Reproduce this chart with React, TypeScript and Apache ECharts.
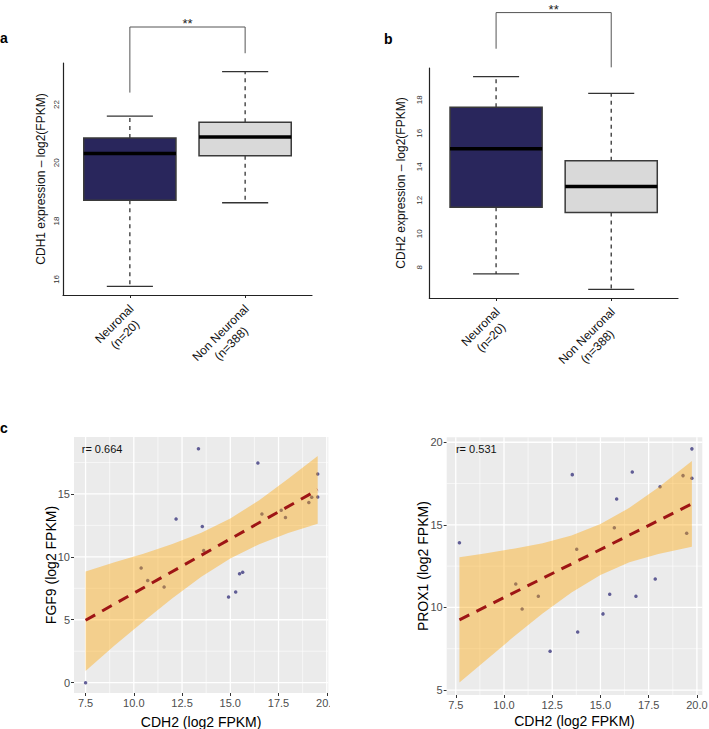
import React, { useEffect, useRef } from 'react';
import * as echarts from 'echarts';

const FONT = '"Liberation Sans", Arial, Helvetica, sans-serif';

// ---------- Panels a / b : box plots ----------
const boxCategories = ['Neuronal\n(n=20)', 'Non Neuronal\n(n=388)'];
const boxFill = ['#29265C', '#D9D9D9'];
// [lower whisker, Q1, median, Q3, upper whisker]
const cdh1Stats = [
  [15.76, 18.72, 20.32, 20.85, 21.6],
  [18.63, 20.24, 20.89, 21.39, 23.13],
];
const cdh2Stats = [
  [7.6, 11.58, 15.08, 17.55, 19.39],
  [6.67, 11.27, 12.82, 14.36, 18.38],
];
const cdh1Ticks = [16, 18, 20, 22];
const cdh2Ticks = [8, 10, 12, 14, 16, 18];
// significance bracket: [left leg bottom, top, right leg bottom]
const cdh1Bracket = [22.41, 24.66, 23.76];
const cdh2Bracket = [21.05, 23.21, 19.94];
const sigLabel = '**';

// ---------- Panel c : scatter + lm fit ----------
const fgf9X = [7.5, 10.38, 10.72, 11.57, 12.19, 13.35, 13.55, 13.62, 14.91, 15.28, 15.48, 15.64, 16.43, 16.64, 17.64, 17.86, 19.07, 19.22, 19.53, 19.53];
const fgf9Y = [0.0, 9.11, 8.11, 7.6, 13.0, 18.59, 12.41, 10.51, 6.81, 7.21, 8.66, 8.77, 17.45, 13.41, 13.7, 13.12, 14.31, 14.74, 16.58, 14.76];
const fgf9BandX = [7.5, 9, 10.5, 12, 13.5, 15, 16.5, 18, 19.53];
const fgf9BandLo = [0.92, 2.96, 4.87, 6.71, 8.41, 9.86, 11.0, 11.89, 12.62];
const fgf9BandHi = [8.84, 9.56, 10.25, 11.01, 11.91, 13.04, 14.5, 16.21, 18.01];
const fgf9FitX = [7.5, 19.53];
const fgf9FitY = [4.96, 15.32];
const fgf9R = 'r= 0.664';

const prox1X = [7.69, 10.61, 10.94, 11.78, 12.39, 13.54, 13.77, 13.82, 15.13, 15.48, 15.72, 15.84, 16.65, 16.84, 17.84, 18.09, 19.28, 19.47, 19.74, 19.74];
const prox1Y = [13.92, 11.42, 9.91, 10.68, 7.35, 18.04, 13.52, 8.52, 9.61, 10.8, 14.83, 16.57, 18.2, 10.68, 11.72, 17.31, 17.98, 14.49, 19.6, 17.82];
const prox1BandX = [7.69, 9, 10.5, 12, 13.5, 15, 16.5, 18, 19.74];
const prox1BandLo = [5.45, 6.75, 8.22, 9.63, 10.91, 11.97, 12.73, 13.24, 13.68];
const prox1BandHi = [13.04, 13.27, 13.56, 13.89, 14.35, 15.05, 16.03, 17.26, 18.87];
const prox1FitX = [7.69, 19.74];
const prox1FitY = [9.25, 16.27];
const prox1R = 'r= 0.531';

const cdh2XTicks = [7.5, 10, 12.5, 15, 17.5, 20];
const cdh2XMinor = [8.75, 11.25, 13.75, 16.25, 18.75];
const fgf9YTicks = [0, 5, 10, 15];
const fgf9YMinor = [2.5, 7.5, 12.5, 17.5];
const prox1YTicks = [5, 10, 15, 20];
const prox1YMinor = [7.5, 12.5, 17.5];

function textWidth(t: string, font: string): number {
  const ctx = document.createElement('canvas').getContext('2d');
  if (!ctx) return t.length * 6.5;
  ctx.font = font;
  return ctx.measureText(t).width;
}

function boxSeries(axisIndex: number, stats: number[][], yMin: number) {
  return {
    type: 'custom',
    xAxisIndex: axisIndex,
    yAxisIndex: axisIndex,
    z: 3,
    clip: false,
    data: stats.map((s, i) => [i + 1, ...s]),
    renderItem: (params: any, api: any) => {
      const x = api.value(0);
      const [cx, lowY] = api.coord([x, api.value(1)]);
      const q1Y = api.coord([x, api.value(2)])[1];
      const medY = api.coord([x, api.value(3)])[1];
      const q3Y = api.coord([x, api.value(4)])[1];
      const highY = api.coord([x, api.value(5)])[1];
      const half = api.size([0.8, 0])[0] / 2;
      const cap = api.size([0.4, 0])[0] / 2;
      const axisY = api.coord([x, yMin])[1];
      const label = boxCategories[params.dataIndex];
      const w = Math.max(...label.split('\n').map((l) => textWidth(l, '12px "Liberation Sans"')));
      const ax = cx + 7;
      const ay = axisY + 17;
      const k = Math.SQRT1_2 * (w / 2);
      const stroke = '#333';
      return {
        type: 'group',
        children: [
          { type: 'line', shape: { x1: cx, y1: q3Y, x2: cx, y2: highY }, style: { stroke, lineWidth: 1.3, lineDash: [4, 4] } },
          { type: 'line', shape: { x1: cx, y1: q1Y, x2: cx, y2: lowY }, style: { stroke, lineWidth: 1.3, lineDash: [4, 4] } },
          { type: 'line', shape: { x1: cx - cap, y1: highY, x2: cx + cap, y2: highY }, style: { stroke, lineWidth: 1.3 } },
          { type: 'line', shape: { x1: cx - cap, y1: lowY, x2: cx + cap, y2: lowY }, style: { stroke, lineWidth: 1.3 } },
          {
            type: 'rect',
            shape: { x: cx - half, y: q3Y, width: half * 2, height: q1Y - q3Y },
            style: { fill: boxFill[params.dataIndex], stroke: '#3a3a3a', lineWidth: 1.5 },
          },
          { type: 'line', shape: { x1: cx - half, y1: medY, x2: cx + half, y2: medY }, style: { stroke: '#000', lineWidth: 3.5 } },
          {
            type: 'text',
            x: ax - k,
            y: ay + k,
            rotation: Math.PI / 4,
            style: {
              text: label,
              fontSize: 12,
              fontFamily: FONT,
              fill: '#111',
              align: 'center',
              verticalAlign: 'middle',
              lineHeight: 15,
            },
          },
        ],
      };
    },
  };
}

function bracketSeries(axisIndex: number, b: number[]) {
  return {
    type: 'custom',
    xAxisIndex: axisIndex,
    yAxisIndex: axisIndex,
    clip: false,
    z: 4,
    data: [[1.5, b[1]]],
    renderItem: (_p: any, api: any) => {
      const [x1, yl] = api.coord([1, b[0]]);
      const yt = api.coord([1, b[1]])[1];
      const [x2, yr] = api.coord([2, b[2]]);
      const mx = api.coord([1.5, b[1]])[0];
      return {
        type: 'group',
        children: [
          {
            type: 'polyline',
            shape: { points: [[x1, yl], [x1, yt], [x2, yt], [x2, yr]] },
            style: { stroke: '#555', lineWidth: 1, fill: null },
          },
          {
            type: 'text',
            x: mx,
            y: yt + 3,
            style: { text: sigLabel, fontSize: 13, fontFamily: FONT, fill: '#222', align: 'center', verticalAlign: 'bottom' },
          },
        ],
      };
    },
  };
}

function gridLineSeries(axisIndex: number, xs: number[], ys: number[], xMin: number, yMin: number, width: number) {
  const data = [...xs.map((v) => [v, yMin, 0]), ...ys.map((v) => [xMin, v, 1])];
  return {
    type: 'custom',
    xAxisIndex: axisIndex,
    yAxisIndex: axisIndex,
    z: 1,
    silent: true,
    data,
    renderItem: (params: any, api: any) => {
      const cs = params.coordSys;
      const p = api.coord([api.value(0), api.value(1)]);
      const vertical = api.value(2) === 0;
      return {
        type: 'line',
        shape: vertical
          ? { x1: p[0], y1: cs.y, x2: p[0], y2: cs.y + cs.height }
          : { x1: cs.x, y1: p[1], x2: cs.x + cs.width, y2: p[1] },
        style: { stroke: '#FFFFFF', lineWidth: width },
      };
    },
  };
}

function bandSeries(axisIndex: number, bx: number[], lo: number[], hi: number[]) {
  return {
    type: 'custom',
    xAxisIndex: axisIndex,
    yAxisIndex: axisIndex,
    z: 3,
    silent: true,
    data: bx.map((x, i) => [x, lo[i], hi[i]]),
    renderItem: (params: any, api: any) => {
      if (params.dataIndex !== 0) return null;
      const upper = bx.map((x, i) => api.coord([x, hi[i]]));
      const lower = bx.map((x, i) => api.coord([x, lo[i]])).reverse();
      return {
        type: 'polygon',
        shape: { points: [...upper, ...lower] },
        style: { fill: 'rgba(255,165,0,0.4)', stroke: null },
      };
    },
  };
}

function rLabelSeries(axisIndex: number, x: number, y: number, text: string) {
  return {
    type: 'custom',
    xAxisIndex: axisIndex,
    yAxisIndex: axisIndex,
    z: 6,
    data: [[x, y]],
    renderItem: (_p: any, api: any) => {
      const p = api.coord([api.value(0), api.value(1)]);
      return {
        type: 'text',
        x: p[0],
        y: p[1],
        style: { text, fontSize: 11, fontFamily: FONT, fill: '#111', align: 'left', verticalAlign: 'middle' },
      };
    },
  };
}

const tickLabelStyle = { color: '#4D4D4D', fontSize: 11, fontFamily: FONT };

function scatterXAxis(gridIndex: number, min: number, max: number, nameGap: number) {
  return {
    type: 'value',
    gridIndex,
    min,
    max,
    name: 'CDH2 (log2 FPKM)',
    nameLocation: 'middle',
    nameGap,
    nameMoveOverlap: false,
    nameTextStyle: { fontSize: 14, color: '#000', fontFamily: FONT },
    axisLine: { show: false, onZero: false },
    axisTick: { show: true, customValues: cdh2XTicks, length: 3, lineStyle: { color: '#333', width: 1 } },
    axisLabel: { ...tickLabelStyle, customValues: cdh2XTicks, margin: 4, formatter: (v: number) => v.toFixed(1) },
    splitLine: { show: false },
  };
}

function scatterYAxis(gridIndex: number, min: number, max: number, ticks: number[], name: string, nameGap: number) {
  return {
    type: 'value',
    gridIndex,
    min,
    max,
    name,
    nameLocation: 'middle',
    nameGap,
    nameMoveOverlap: false,
    nameTextStyle: { fontSize: 14, color: '#000', fontFamily: FONT },
    axisLine: { show: false, onZero: false },
    axisTick: { show: true, customValues: ticks, length: 3, lineStyle: { color: '#333', width: 1 } },
    axisLabel: { ...tickLabelStyle, customValues: ticks, margin: 4, formatter: (v: number) => String(v) },
    splitLine: { show: false },
  };
}

function boxXAxis(gridIndex: number) {
  return {
    type: 'value',
    gridIndex,
    min: 0.42,
    max: 2.58,
    axisLine: { show: true, onZero: false, lineStyle: { color: '#222', width: 1.2 } },
    axisTick: { show: true, customValues: [1, 2], length: 3, lineStyle: { color: '#222', width: 1 } },
    axisLabel: { show: false },
    splitLine: { show: false },
  };
}

function boxYAxis(gridIndex: number, min: number, max: number, ticks: number[], name: string, nameGap: number, margin: number) {
  return {
    type: 'value',
    gridIndex,
    min,
    max,
    name,
    nameLocation: 'middle',
    nameGap,
    nameMoveOverlap: false,
    nameTextStyle: { fontSize: 12, color: '#111', fontFamily: FONT },
    axisLine: { show: true, onZero: false, lineStyle: { color: '#222', width: 1.2 } },
    axisTick: { show: false },
    axisLabel: { customValues: ticks, rotate: 90, fontSize: 8, color: '#333', margin, fontFamily: FONT },
    splitLine: { show: false },
  };
}

export default function App() {
  const ref = useRef<HTMLDivElement>(null);

  useEffect(() => {
    if (!ref.current) return;
    const chart = echarts.init(ref.current, null, { renderer: 'svg' });
    const aMin = 15.465, aMax = 23.425;
    const bMin = 6.16, bMax = 19.9;
    const lxMin = 6.9, lxMax = 20.08, lyMin = -0.82, lyMax = 19.52;
    const rxMin = 7.03, rxMax = 20.28, ryMin = 4.7, ryMax = 20.3;

    const option: any = {
      animation: false,
      backgroundColor: '#FFFFFF',
      textStyle: { fontFamily: FONT },
      grid: [
        { left: 63, top: 63, width: 249, height: 232, outerBoundsMode: 'none' },
        { left: 429.3, top: 68, width: 248.7, height: 230, outerBoundsMode: 'none' },
        { left: 74, top: 437, width: 254.3, height: 256, show: true, backgroundColor: '#EBEBEB', borderWidth: 0, outerBoundsMode: 'none' },
        { left: 446.7, top: 437.3, width: 255.6, height: 257.7, show: true, backgroundColor: '#EBEBEB', borderWidth: 0, outerBoundsMode: 'none' },
      ],
      xAxis: [
        boxXAxis(0),
        boxXAxis(1),
        scatterXAxis(2, lxMin, lxMax, 22),
        scatterXAxis(3, rxMin, rxMax, 19),
      ],
      yAxis: [
        boxYAxis(0, aMin, aMax, cdh1Ticks, 'CDH1 expression – log2(FPKM)', 16, 3),
        boxYAxis(1, bMin, bMax, cdh2Ticks, 'CDH2 expression – log2(FPKM)', 22, 6),
        scatterYAxis(2, lyMin, lyMax, fgf9YTicks, 'FGF9 (log2 FPKM)', 16),
        scatterYAxis(3, ryMin, ryMax, prox1YTicks, 'PROX1 (log2 FPKM)', 17),
      ],
      series: [
        boxSeries(0, cdh1Stats, aMin),
        boxSeries(1, cdh2Stats, bMin),
        bracketSeries(0, cdh1Bracket),
        bracketSeries(1, cdh2Bracket),

        gridLineSeries(2, cdh2XMinor, fgf9YMinor, lxMin, lyMin, 0.6),
        gridLineSeries(2, cdh2XTicks, fgf9YTicks, lxMin, lyMin, 1.3),
        {
          type: 'scatter',
          xAxisIndex: 2,
          yAxisIndex: 2,
          z: 2,
          symbol: 'circle',
          symbolSize: 3.5,
          itemStyle: { color: '#3D3A80' },
          data: fgf9X.map((x, i) => [x, fgf9Y[i]]),
        },
        bandSeries(2, fgf9BandX, fgf9BandLo, fgf9BandHi),
        {
          type: 'line',
          xAxisIndex: 2,
          yAxisIndex: 2,
          z: 4,
          symbol: 'none',
          lineStyle: { color: '#9E1515', width: 3, type: [11, 8], cap: 'butt' },
          data: fgf9FitX.map((x, i) => [x, fgf9FitY[i]]),
        },
        rLabelSeries(2, 7.3, 18.54, fgf9R),

        gridLineSeries(3, cdh2XMinor, prox1YMinor, rxMin, ryMin, 0.6),
        gridLineSeries(3, cdh2XTicks, prox1YTicks, rxMin, ryMin, 1.3),
        {
          type: 'scatter',
          xAxisIndex: 3,
          yAxisIndex: 3,
          z: 2,
          symbol: 'circle',
          symbolSize: 3.5,
          itemStyle: { color: '#3D3A80' },
          data: prox1X.map((x, i) => [x, prox1Y[i]]),
        },
        bandSeries(3, prox1BandX, prox1BandLo, prox1BandHi),
        {
          type: 'line',
          xAxisIndex: 3,
          yAxisIndex: 3,
          z: 4,
          symbol: 'none',
          lineStyle: { color: '#9E1515', width: 3, type: [11, 8], cap: 'butt' },
          data: prox1FitX.map((x, i) => [x, prox1FitY[i]]),
        },
        rLabelSeries(3, 7.51, 19.58, prox1R),
      ],
      graphic: [
        { type: 'text', x: 0, y: 31, style: { text: 'a', font: `bold 14px ${FONT}`, fill: '#000' } },
        { type: 'text', x: 384, y: 32, style: { text: 'b', font: `bold 14px ${FONT}`, fill: '#000' } },
        { type: 'text', x: 0, y: 421, style: { text: 'c', font: `bold 14px ${FONT}`, fill: '#000' } },
        { type: 'rect', z: 100, shape: { x: 330, y: 696, width: 14, height: 14 }, style: { fill: '#FFFFFF' } },
      ],
    };
    chart.setOption(option);
    return () => chart.dispose();
  }, []);

  return (
    <div
      ref={ref}
      style={{ position: 'absolute', left: 0, top: 0, width: 709, height: 729, background: '#fff' }}
    />
  );
}
